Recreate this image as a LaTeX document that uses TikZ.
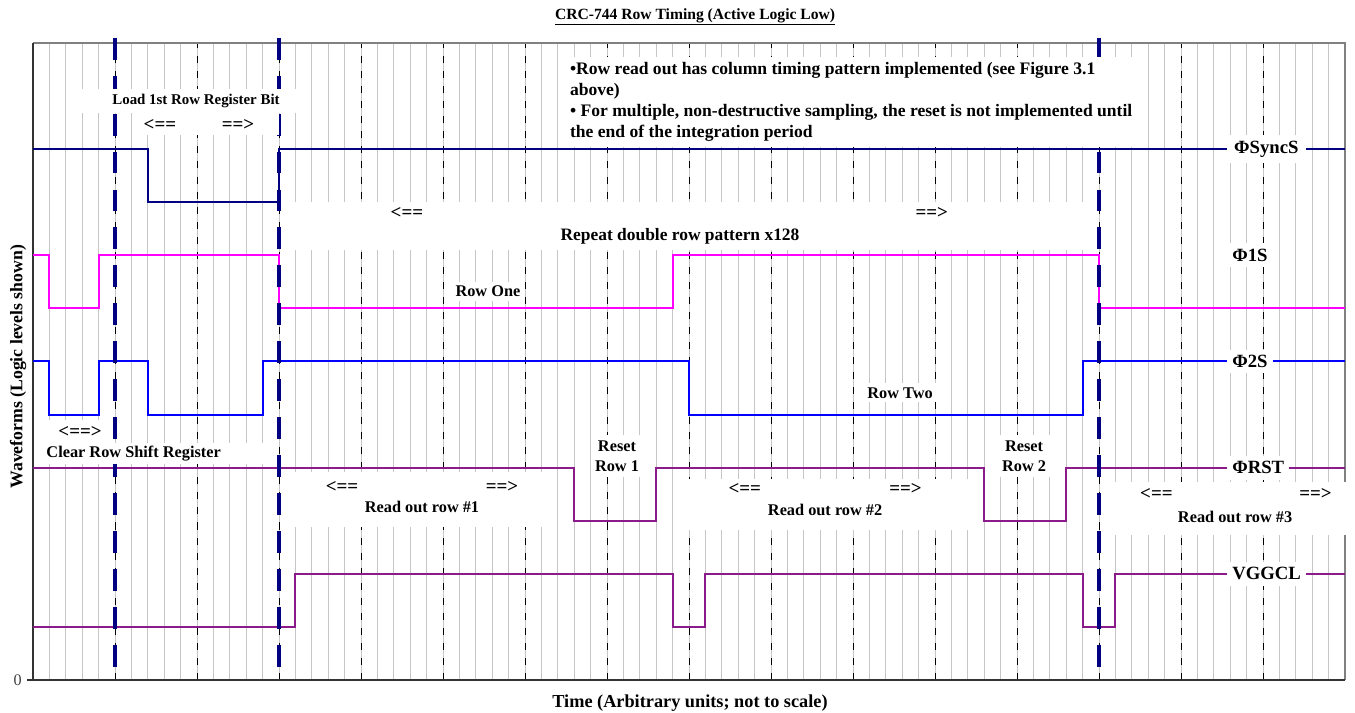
\documentclass[tikz,border=0pt]{standalone}
\usepackage{fontspec}
\setmainfont{Liberation Serif}
\definecolor{navy}{HTML}{000080}
\definecolor{rstpurple}{HTML}{8B1A8B}
\definecolor{onemag}{HTML}{FF00FF}
\definecolor{twoblue}{HTML}{0000FF}
\newcommand{\lblfont}[1]{\fontsize{#1}{1.2\dimexpr #1pt\relax}\selectfont\bfseries}
\tikzset{
  gridline/.style={gray!45, line width=0.7pt},
  tickdash/.style={black, line width=0.7pt, dash pattern=on 5pt off 5.7pt},
  phaseline/.style={navy, line width=3.5pt, dash pattern=on 15.6pt off 11.4pt},
  sig/.style={line width=1.4pt},
  lbl/.style={fill=white, inner xsep=3pt, inner ysep=3pt, font=\lblfont{11.6}},
  arr/.style={inner sep=1pt, font=\lblfont{11.6}},
  dblarr/.style={inner sep=1pt, font=\lblfont{13.5}},
  siglbl/.style={lbl, anchor=west, inner xsep=3.6pt, inner ysep=4pt, font=\lblfont{13.3}}
}
\begin{document}
\begin{tikzpicture}[x=0.41cm, y=1.327cm]
  \useasboundingbox (-2.012,-0.6217) rectangle (80.61,12.81);
  % grid
  \foreach \t in {1,...,79}
    \draw[gridline] (\t,0) -- (\t,12);
  \foreach \t in {5,10,...,75}
    \draw[tickdash] (\t,0) -- (\t,12);
  % frame
  \draw[gray, line width=1.3pt] (0,12) -- (80,12) -- (80,0);
  \draw[black!80, line width=1pt] (0,12) -- (0,0) -- (80,0);
  \draw[black!80, line width=1pt] (-0.35,0) -- (0,0);
  \node[font=\fontsize{11.5}{13}\selectfont, text=black!75] (zero) at (-0.93,0) {0};

  % waveforms
  \draw[sig, navy] (0,10) -- (7,10) -- (7,9) -- (15,9) -- (15,10) -- (80,10);
  \draw[sig, onemag] (0,8) -- (1,8) -- (1,7) -- (4,7) -- (4,8) -- (15,8) -- (15,7)
    -- (39,7) -- (39,8) -- (65,8) -- (65,7) -- (80,7);
  \draw[sig, twoblue] (0,6) -- (1,6) -- (1,5) -- (4,5) -- (4,6) -- (7,6) -- (7,5)
    -- (14,5) -- (14,6) -- (40,6) -- (40,5) -- (64,5) -- (64,6) -- (80,6);
  \draw[sig, rstpurple] (0,4) -- (33,4) -- (33,3) -- (38,3) -- (38,4) -- (58,4)
    -- (58,3) -- (63,3) -- (63,4) -- (80,4);
  \draw[sig, rstpurple] (0,1) -- (16,1) -- (16,2) -- (39,2) -- (39,1) -- (41,1)
    -- (41,2) -- (64,2) -- (64,1) -- (66,1) -- (66,2) -- (80,2);

  % row boundaries
  \foreach \t in {5,15,65}
    \draw[phaseline] (\t,12.1) -- (\t,0);

  % label backgrounds
  \fill[white] (2.99,11.13) rectangle (16.04,10.68);
  \fill[white] (6.04,10.68) rectangle (15.0,10.27);
  \fill[white] (15.24,9.0) rectangle (64.76,8.1);
  \fill[white] (0.12,4.9) rectangle (4.7,4.465);
  \fill[white] (0.12,4.465) rectangle (14.76,4.06);
  \fill[white] (15.24,3.92) rectangle (31.95,2.88);
  \fill[white] (39.2,3.79) rectangle (57.07,2.83);
  \fill[white] (65.85,3.73) rectangle (80.3,2.73);

  % title and notes
  \node[font=\lblfont{11.1}] (title) at (40.37,12.49)
    {\underline{CRC-744 Row Timing (Active Logic Low)}};
  \node[lbl, anchor=north west, align=left, inner xsep=7pt, inner ysep=4pt,
    font=\fontsize{12.5}{14.8}\selectfont\bfseries] (notes) at (32.13,11.74)
    {•Row read out has column timing pattern implemented (see Figure 3.1\\
     above)\\
     • For multiple, non-destructive sampling, the reset is not implemented until\\
     the end of the integration period};

  \node[arr, font=\lblfont{10.6}] (loadtxt) at (9.94,10.91) {Load 1st Row Register Bit};
  \node[dblarr] (loadl) at (7.74,10.46) {<==};
  \node[dblarr] (loadr) at (12.5,10.46) {==>};

  \node[dblarr] (repl) at (22.8,8.8) {<==};
  \node[dblarr] (repr) at (54.8,8.8) {==>};
  \node[arr, font=\lblfont{12.4}] (reptxt) at (39.45,8.36) {Repeat double row pattern x128};

  \node[lbl] (rowone) at (27.74,7.32) {Row One};
  \node[lbl] (rowtwo) at (52.87,5.41) {Row Two};

  \node[dblarr] (clearlr) at (2.87,4.67) {<==>};
  \node[arr, anchor=west] (clear) at (0.72,4.27) {Clear Row Shift Register};

  \node[lbl, align=center, inner ysep=4pt,
    font=\fontsize{11.6}{14.2}\selectfont\bfseries] (resetone) at (35.61,4.22) {Reset\\Row 1};
  \node[lbl, align=center, inner ysep=4pt,
    font=\fontsize{11.6}{14.2}\selectfont\bfseries] (resettwo) at (60.43,4.22) {Reset\\Row 2};

  \node[dblarr] (rdonel) at (18.84,3.64) {<==};
  \node[dblarr] (rdoner) at (28.6,3.64) {==>};
  \node[arr] (rdone) at (23.72,3.26) {Read out row \#1};
  \node[dblarr] (rdtwol) at (43.4,3.6) {<==};
  \node[dblarr] (rdtwor) at (53.2,3.6) {==>};
  \node[arr] (rdtwo) at (48.3,3.2) {Read out row \#2};
  \node[dblarr] (rdthreel) at (68.5,3.51) {<==};
  \node[dblarr] (rdthreer) at (78.2,3.51) {==>};
  \node[arr] (rdthree) at (73.3,3.07) {Read out row \#3};

  % signal names
  \node[siglbl, inner xsep=5pt] (syncs) at (72.8,10) {ΦSyncS\hspace{12pt}};
  \node[siglbl] (pones) at (72.8,8) {Φ1S};
  \node[siglbl] (ptwos) at (72.8,6) {Φ2S\hspace{10pt}};
  \node[siglbl] (prst) at (72.8,4) {ΦRST};
  \node[siglbl] (vggcl) at (72.8,2) {VGGCL};

  % axis titles
  \node[font=\lblfont{12.6}, rotate=90] (ylabel) at (-0.915,5.9)
    {Waveforms (Logic levels shown)};
  \node[font=\lblfont{13}] (xlabel) at (40.06,-0.434)
    {Time (Arbitrary units; not to scale)};
\end{tikzpicture}
\end{document}
